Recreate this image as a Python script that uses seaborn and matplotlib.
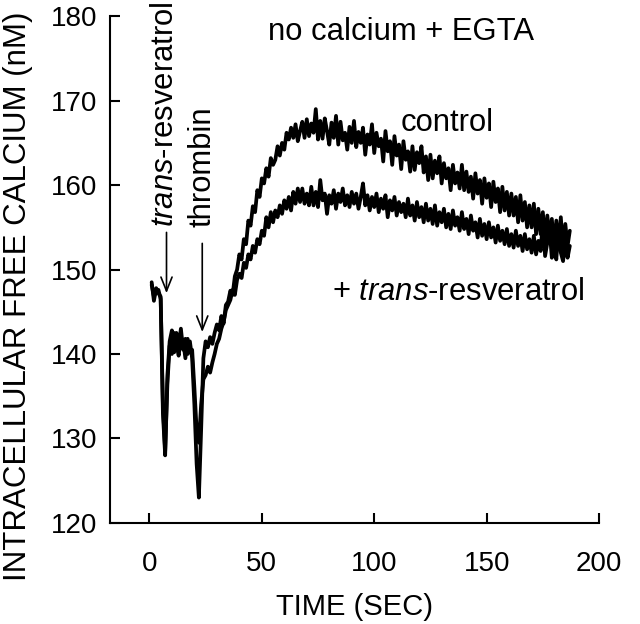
import numpy as np
import pandas as pd
import seaborn as sns
from matplotlib import pyplot as plt

# Tempo (s) e cálcio livre (nM)
tempo = list(range(1, 188))

controle = [
    148.5, 146.3, 147.8, 147.2, 146.8, 133.0, 128.0, 137.5, 141.5, 142.8,
    140.2, 142.5, 141.0, 143.0, 140.5, 141.8, 140.0, 141.5, 139.5, 134.0,
    127.0, 123.0, 131.0, 139.5, 141.5, 140.8, 142.0, 141.2, 142.5, 143.5,
    142.8, 144.5, 143.6, 145.8, 146.2, 147.5, 147.0, 149.2, 150.0, 151.8,
    151.2, 153.6, 153.0, 155.8, 155.2, 157.5, 156.8, 159.4, 158.6, 160.8,
    160.2, 162.0, 161.0, 163.2, 162.4, 163.0, 164.6, 163.5, 165.0, 164.2,
    166.2, 165.4, 166.8, 165.6, 167.2, 165.2, 166.4, 167.5, 165.6, 167.8,
    165.8, 167.3, 166.2, 169.0, 165.4, 167.6, 165.5, 167.9, 166.4, 164.8,
    167.4, 165.6, 168.2, 164.8, 167.5, 165.3, 166.2, 164.2, 166.9, 165.0,
    167.6, 164.5, 166.3, 165.0, 166.8, 163.6, 166.0, 164.8, 167.2, 163.8,
    166.2, 164.6, 165.5, 162.8, 166.4, 164.0, 165.2, 162.4, 165.8, 163.5,
    164.8, 161.9, 165.2, 163.0, 164.0, 161.6, 164.6, 161.8, 163.9, 162.6,
    164.6, 161.5, 163.4, 160.6, 163.6, 160.8, 162.9, 161.4, 163.4, 160.2,
    162.6, 160.8, 162.0, 159.4, 162.4, 160.2, 161.5, 159.6, 162.4, 159.4,
    161.6, 159.2, 161.0, 158.4, 161.4, 159.0, 160.6, 157.8, 160.8, 158.5,
    160.2, 157.4, 160.4, 158.0, 159.6, 156.8, 159.8, 157.0, 159.2, 156.4,
    159.0, 156.4, 158.6, 155.6, 158.8, 155.8, 158.0, 155.0, 157.6, 155.0,
    157.8, 154.2, 157.2, 154.2, 156.8, 153.4, 156.4, 153.6, 156.0, 152.8,
    155.8, 152.6, 156.2, 152.4, 155.4, 152.8, 154.6,
]

resveratrol = [
    148.2, 146.8, 147.4, 147.6, 146.5, 134.0, 128.5, 136.5, 141.0, 140.0,
    142.5, 141.2, 139.8, 142.0, 141.5, 139.5, 141.8, 140.2, 140.5, 136.0,
    131.0, 129.5, 134.0, 137.0, 137.5, 138.5, 137.8, 139.0, 140.0, 141.2,
    141.8, 143.0, 143.8, 145.2, 145.8, 146.4, 147.6, 147.0, 148.8, 149.5,
    149.0, 150.8, 150.2, 151.8, 151.2, 152.8, 152.0, 153.6, 153.0, 154.6,
    154.0, 156.2, 155.0, 156.8, 155.6, 157.0, 156.2, 157.6, 156.6, 158.2,
    157.2, 158.6, 157.0, 159.2, 157.8, 159.6, 158.0, 159.6, 157.8, 159.0,
    157.6, 159.8, 157.6, 159.2, 157.4, 160.6, 158.2, 159.0, 156.6, 158.8,
    157.8, 159.4, 157.2, 159.0, 158.0, 159.6, 157.6, 158.8, 157.4, 159.2,
    157.8, 159.0, 157.2, 158.6, 160.2, 157.6, 158.8, 157.0, 158.6, 157.4,
    159.0, 156.8, 158.4, 157.2, 158.8, 156.2, 158.2, 157.0, 158.6, 156.4,
    158.0, 156.8, 157.8, 156.2, 158.4, 156.4, 157.6, 155.8, 158.0, 156.2,
    157.4, 155.6, 157.8, 155.8, 157.2, 155.4, 157.6, 155.2, 156.8, 155.6,
    157.2, 155.0, 156.6, 154.8, 157.0, 155.2, 156.2, 154.6, 156.8, 154.8,
    156.0, 154.2, 156.4, 154.6, 155.6, 153.8, 156.0, 154.0, 155.4, 153.6,
    155.6, 153.8, 155.0, 153.2, 155.2, 153.4, 154.6, 153.0, 154.8, 152.8,
    154.2, 152.6, 154.6, 152.8, 154.0, 152.2, 154.2, 152.4, 153.6, 152.0,
    154.0, 151.8, 153.4, 152.2, 155.6, 151.6, 153.2, 154.8, 151.4, 153.0,
    151.2, 155.2, 152.0, 151.0, 153.6, 151.4, 152.8,
]

# Momentos de adição (s) e ponta das setas (nM)
adicoes = [7.6, 23.5]
ponta_seta = [147.2, 142.6]
inicio_seta = [154.4, 153.1]

# Monta o data frame em formato long
dados = pd.DataFrame({'tempo': tempo, 'control': controle, 'resveratrol': resveratrol})
dados_long = pd.melt(dados, id_vars='tempo', var_name='condicao', value_name='calcio')

# Tema
sns.set_theme(style='ticks', rc={'text.color': 'black', 'axes.labelcolor': 'black',
                                 'xtick.color': 'black', 'ytick.color': 'black'})
plt.rcParams['font.family'] = 'Liberation Sans'
plt.rcParams['mathtext.fontset'] = 'custom'
plt.rcParams['mathtext.rm'] = 'Liberation Sans'
plt.rcParams['mathtext.it'] = 'Liberation Sans:italic'

fig = plt.figure(figsize=(6.4, 6.24), dpi=100)
ax = fig.add_axes([0.172, 0.162, 0.764, 0.812])

sns.lineplot(data=dados_long, x='tempo', y='calcio', hue='condicao',
             palette={'control': 'black', 'resveratrol': 'black'},
             estimator=None, linewidth=2.7, legend=False, ax=ax)

ax.set_xlim(-17.5, 200)
ax.set_ylim(120, 180)
ax.set_xticks([0, 50, 100, 150, 200])
ax.set_yticks([120, 130, 140, 150, 160, 170, 180])
sns.despine(ax=ax)
for s in ['left', 'bottom']:
    ax.spines[s].set_linewidth(1.5)
    ax.spines[s].set_color('black')
ax.tick_params(axis='both', direction='in', length=7, width=1.5, colors='black', labelsize=20)
ax.tick_params(axis='x', pad=20)
ax.tick_params(axis='y', pad=9)
ax.set_xlabel('TIME (SEC)', fontsize=21, labelpad=12, color='black')
ax.set_ylabel('')
fig.text(18 / 640, 1 - 296 / 624, 'INTRACELLULAR FREE CALCIUM (nM)', rotation=90,
         ha='center', va='center', fontsize=22.5, color='black')

# Textos e setas
ax.text(112, 178.1, 'no calcium + EGTA', ha='center', va='center', fontsize=22.3)
ax.text(111.7, 167.3, 'control', ha='left', va='center', fontsize=22.3)
ax.text(81.4, 147.3, r'+ $\mathit{trans}$-resveratrol', ha='left', va='center', fontsize=22.3)
ax.text(7.1, 155.0, r'$\mathit{trans}$-resveratrol', rotation=90, ha='center', va='bottom', fontsize=22.3)
ax.text(23.6, 155.0, 'thrombin', rotation=90, ha='center', va='bottom', fontsize=22.3)
for x, y0, y1 in zip(adicoes, inicio_seta, ponta_seta):
    ax.annotate('', xy=(x, y1), xytext=(x, y0),
                arrowprops=dict(arrowstyle='->, head_length=0.5, head_width=0.2',
                                lw=1.2, color='black', mutation_scale=20, shrinkA=0, shrinkB=0))

plt.savefig('out.png', dpi=100)
